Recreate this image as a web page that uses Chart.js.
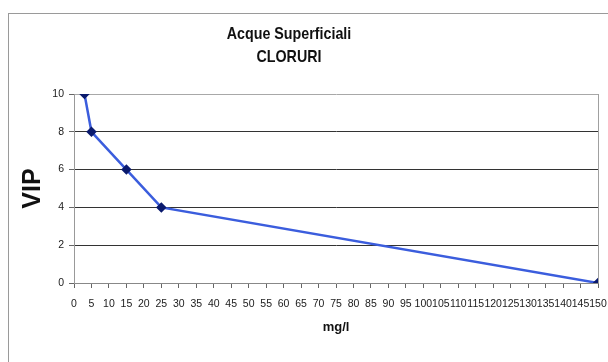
<!DOCTYPE html>
<html>
<head>
<meta charset="utf-8">
<script src="https://cdn.jsdelivr.net/npm/chart.js@4"></script>
<style>
  html, body { margin: 0; padding: 0; background: #fff; }
  #wrap { position: relative; width: 608px; height: 362px; overflow: hidden; }
  #frame { position: absolute; left: 8px; top: 13px; width: 700px; height: 400px; border: 1px solid #9a9a9a; }
  canvas { position: absolute; left: 0; top: 0; }
</style>
</head>
<body>
<div id="wrap">
  <div id="frame"></div>
  <canvas id="grafico" width="608" height="362"></canvas>
</div>
<script>
// valori
const mgL = [3, 5, 15, 25, 150]
const vip = [10, 8, 6, 4, 0]
const titolo = ['Acque Superficiali', 'CLORURI']
const asseX = 'mg/l'
const asseY = 'VIP'

const fontBase = "'Liberation Sans', Arial, sans-serif"

// titolo disegnato a mano (stretto, centrato come nell'originale)
const titoloPlugin = {
    id: 'titolo',
    afterDraw(chart) {
        const ctx = chart.ctx
        ctx.save()
        ctx.fillStyle = '#111'
        ctx.font = 'bold 17px ' + fontBase
        ctx.textAlign = 'center'
        ctx.textBaseline = 'middle'
        ctx.translate(289, 0)
        ctx.scale(0.84, 1)
        titolo.forEach((riga, i) => ctx.fillText(riga, 0, 34 + i * 23))
        ctx.restore()
    }
}

new Chart(document.getElementById('grafico'), {
    type: 'scatter',
    data: {
        datasets: [{
            data: mgL.map((x, i) => ({x: x, y: vip[i]})),
            showLine: true,
            borderColor: '#3b5ddd',
            borderWidth: 2.5,
            pointStyle: 'rectRot',
            pointRadius: 3.5,
            pointBackgroundColor: '#0a1a6e',
            pointBorderColor: '#0a1a6e',
            tension: 0
        }]
    },
    options: {
        responsive: false,
        animation: false,
        layout: { padding: { left: 0, right: 10, top: 94, bottom: 0 } },
        scales: {
            x: {
                type: 'linear',
                min: 0,
                max: 150,
                afterFit: (scale) => {
                    scale.height = 79
                    scale.paddingLeft = 0
                    scale.paddingRight = 0
                },
                ticks: {
                    stepSize: 5,
                    autoSkip: false,
                    maxRotation: 0,
                    minRotation: 0,
                    padding: 10,
                    color: '#1a1a1a',
                    font: { family: fontBase, size: 10.5 }
                },
                grid: {
                    color: ({ tick }) => (tick && tick.value == 150) ? '#a0a0a0' : 'rgba(0,0,0,0)',
                    tickColor: '#666',
                    tickLength: 5,
                    lineWidth: 1
                },
                border: { color: '#888', width: 1 },
                title: {
                    display: true,
                    text: asseX,
                    color: '#111',
                    font: { family: fontBase, size: 13, weight: 'bold' },
                    padding: { bottom: 27 }
                }
            },
            y: {
                min: 0,
                max: 10,
                afterFit: (scale) => { scale.width = 74 },
                ticks: {
                    stepSize: 2,
                    padding: 5,
                    color: '#1a1a1a',
                    font: { family: fontBase, size: 10.5 }
                },
                grid: {
                    color: ({ tick }) => tick.value == 10 ? '#a8a8a8' : (tick.value == 0 ? 'rgba(0,0,0,0)' : '#333'),
                    tickColor: '#666',
                    tickLength: 5,
                    lineWidth: 1
                },
                border: { color: '#999', width: 1 },
                title: {
                    display: true,
                    text: asseY,
                    color: '#111',
                    font: { family: fontBase, size: 25, weight: 'bold' },
                    padding: { top: 18 }
                }
            }
        },
        plugins: {
            legend: { display: false },
            tooltip: { enabled: false }
        }
    },
    plugins: [titoloPlugin]
})
</script>
</body>
</html>
